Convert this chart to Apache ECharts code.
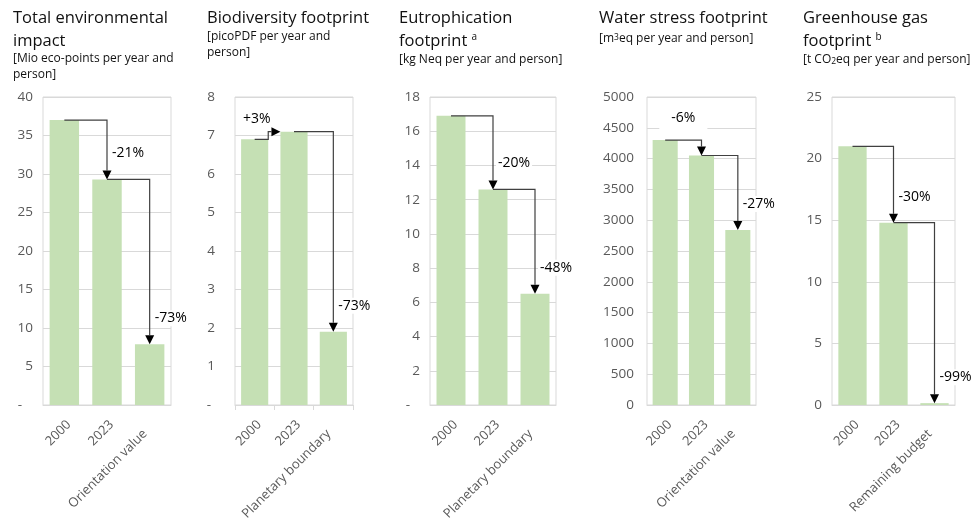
<!DOCTYPE html>
<html><head><meta charset="utf-8">
<script src="https://cdn.jsdelivr.net/npm/echarts@6/dist/echarts.min.js"></script>
<style>html,body{margin:0;padding:0;background:#fff}#c{width:978px;height:523px}</style>
</head><body><div id="c"></div>
<script>
// ---------- data ----------
const CAT_TOTAL = ['2000', '2023', 'Orientation value'];
const VAL_TOTAL = [37, 29.3, 7.9];
const CHG_TOTAL = ['-21%', '-73%'];

const CAT_BIO = ['2000', '2023', 'Planetary boundary'];
const VAL_BIO = [6.9, 7.1, 1.9];
const CHG_BIO = ['+3%', '-73%'];

const CAT_EUT = ['2000', '2023', 'Planetary boundary'];
const VAL_EUT = [16.9, 12.6, 6.5];
const CHG_EUT = ['-20%', '-48%'];

const CAT_WAT = ['2000', '2023', 'Orientation value'];
const VAL_WAT = [4300, 4050, 2840];
const CHG_WAT = ['-6%', '-27%'];

const CAT_GHG = ['2000', '2023', 'Remaining budget'];
const VAL_GHG = [21, 14.8, 0.15];
const CHG_GHG = ['-30%', '-99%'];

const Y_MAX = [40, 8, 18, 5000, 25];
const Y_STEP = [5, 1, 2, 500, 5];
const ZERO_LABEL = ['-', '-', '-', '0', '0'];

const TITLES = [
  ['Total environmental', 'impact'],
  ['Biodiversity footprint'],
  ['Eutrophication', 'footprint {sup|a}'],
  ['Water stress footprint'],
  ['Greenhouse gas', 'footprint {sup|b}']
];
const UNITS = [
  ['[Mio eco-points per year and', 'person]'],
  ['[picoPDF per year and', 'person]'],
  ['[kg Neq per year and person]'],
  ['[m{sup|3}eq per year and person]'],
  ['[t CO{sub|2}eq per year and person]']
];

// ---------- layout ----------
const PANELS = [
  {cats: CAT_TOTAL, vals: VAL_TOTAL, chg: CHG_TOTAL},
  {cats: CAT_BIO, vals: VAL_BIO, chg: CHG_BIO},
  {cats: CAT_EUT, vals: VAL_EUT, chg: CHG_EUT},
  {cats: CAT_WAT, vals: VAL_WAT, chg: CHG_WAT},
  {cats: CAT_GHG, vals: VAL_GHG, chg: CHG_GHG}
];
const LAYOUT = [
  {left: 43, width: 128, tx: 13, ty: [18, 41], uy: [59, 75], lm: 10, zp: 11},
  {left: 235, width: 118, tx: 207, ty: [18], uy: [37, 53], lm: 20, zp: 4},
  {left: 430, width: 126, tx: 399, ty: [18, 41], uy: [60], lm: 10, zp: 10},
  {left: 647, width: 109, tx: 599, ty: [18], uy: [39], lm: 13, zp: 0},
  {left: 832, width: 123, tx: 803, ty: [18, 41], uy: [60], lm: 10, zp: 0}
];
const FONT = '"Open Sans", "Noto Sans", sans-serif';
const BAR_COLOR = '#c5e0b4';
const GRID_COLOR = '#d9d9d9';
const AXIS_TEXT = '#595959';
const LINE_COLOR = '#404040';
const AW = 4.5, AH = 9;

function makeArrow(changes) {
  return function (params, api) {
    const i = api.value(0), v1 = api.value(1), v2 = api.value(2);
    const p1 = api.coord([i, v1]);
    const p2 = api.coord([i + 1, v2]);
    const bw = api.size([1, 0])[0] * 0.69;
    const hb = bw / 2;
    const x1 = p1[0], y1 = p1[1], x2 = p2[0], y2 = p2[1];
    const txt = changes[params.dataIndex];
    const children = [];
    const lineStyle = {stroke: LINE_COLOR, lineWidth: 1.2, fill: null};
    let label;
    if (v2 > v1) {
      const xv = x1 + hb;
      const tip = x2 - hb;
      children.push({type: 'polyline', shape: {points: [[x1, y1], [xv, y1], [xv, y2], [tip - AH, y2]]}, style: lineStyle});
      children.push({type: 'polygon', shape: {points: [[tip - AH, y2 - AW], [tip - AH, y2 + AW], [tip, y2]]}, style: {fill: '#000'}});
      label = {x: x1 + 2, y: y2 - 13, align: 'center', pad: [1, 3]};
    } else {
      children.push({type: 'polyline', shape: {points: [[x1, y1], [x2, y1], [x2, y2 - AH]]}, style: lineStyle});
      children.push({type: 'polygon', shape: {points: [[x2 - AW, y2 - AH], [x2 + AW, y2 - AH], [x2, y2]]}, style: {fill: '#000'}});
      if (y2 - y1 < 30) {
        label = {x: (x1 + x2) / 2, y: y1 - 22, align: 'center', pad: [3, 12, 7, 12]};
      } else {
        label = {x: x2 + 3, y: Math.max((y1 + y2) / 2 + 3, y2 - 26), align: 'left', pad: [1, 2]};
      }
    }
    children.push({
      type: 'text', z2: 10,
      style: {
        text: txt, x: label.x, y: label.y, align: label.align, verticalAlign: 'middle',
        fill: '#000', font: '14px ' + FONT, backgroundColor: '#fff', padding: label.pad
      }
    });
    return {type: 'group', children: children};
  };
}

const grids = [], xAxes = [], yAxes = [], series = [], graphics = [];
PANELS.forEach((p, k) => {
  const L = LAYOUT[k];
  grids.push({
    left: L.left, width: L.width, top: 97, height: 308,
    show: true, borderColor: GRID_COLOR, borderWidth: 1,
    containLabel: false, outerBoundsMode: 'none'
  });
  const xRich = {color: AXIS_TEXT, fontFamily: FONT, fontSize: 13};
  xAxes.push({
    type: 'category', gridIndex: k, data: p.cats,
    axisLine: {lineStyle: {color: GRID_COLOR}},
    axisTick: {show: k === 1, length: 5, lineStyle: {color: GRID_COLOR}},
    axisLabel: {rotate: 45, interval: 0, color: AXIS_TEXT, fontFamily: FONT, fontSize: 13,
      margin: 13, verticalAlign: 'top',
      formatter: v => v.length > 4 ? '{l|' + v + '}' : '{s|' + v + '}',
      rich: {
        s: Object.assign({padding: [0, 0, 0, 0]}, xRich),
        l: Object.assign({padding: [0, 13, 0, 0]}, xRich)
      }
    }
  });
  yAxes.push({
    type: 'value', gridIndex: k, min: 0, max: Y_MAX[k], interval: Y_STEP[k],
    axisLine: {show: false}, axisTick: {show: false},
    splitLine: {lineStyle: {color: GRID_COLOR}},
    axisLabel: {
      color: AXIS_TEXT, fontFamily: FONT, fontSize: 13.5, margin: L.lm,
      formatter: v => v === 0 ? '{z|' + ZERO_LABEL[k] + '}' : String(v),
      rich: {z: {color: AXIS_TEXT, fontFamily: FONT, fontSize: 13.5, padding: [0, L.zp, 0, 0]}}
    }
  });
  series.push({
    type: 'bar', xAxisIndex: k, yAxisIndex: k, data: p.vals,
    barCategoryGap: '31%', itemStyle: {color: BAR_COLOR}, silent: true, z: 2
  });
  series.push({
    type: 'custom', xAxisIndex: k, yAxisIndex: k, coordinateSystem: 'cartesian2d',
    data: p.vals.slice(0, -1).map((v, i) => [i, v, p.vals[i + 1]]),
    renderItem: makeArrow(p.chg), clip: false, silent: true, z: 5
  });
  TITLES[k].forEach((t, j) => {
    graphics.push({
      type: 'text', x: L.tx, y: L.ty[j],
      style: {
        text: t, fill: '#111', font: '16.5px ' + FONT, verticalAlign: 'middle',
        rich: {sup: {fontSize: 10, fontFamily: FONT, fill: '#111', verticalAlign: 'top'}}
      }
    });
  });
  UNITS[k].forEach((t, j) => {
    graphics.push({
      type: 'text', x: L.tx, y: L.uy[j],
      style: {
        text: t, fill: '#111', font: '12px ' + FONT, verticalAlign: 'middle',
        rich: {
          sup: {fontSize: 8.5, fontFamily: FONT, fill: '#111', verticalAlign: 'top'},
          sub: {fontSize: 8.5, fontFamily: FONT, fill: '#111', verticalAlign: 'bottom'}
        }
      }
    });
  });
});

const chart = echarts.init(document.getElementById('c'), null, {renderer: 'canvas'});
chart.setOption({
  animation: false,
  backgroundColor: '#fff',
  grid: grids, xAxis: xAxes, yAxis: yAxes, series: series, graphic: graphics
});
</script>
</body></html>
